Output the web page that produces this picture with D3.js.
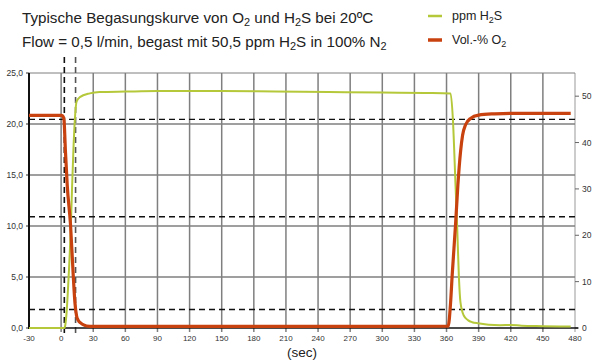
<!DOCTYPE html>
<html><head><meta charset="utf-8">
<script src="https://cdn.jsdelivr.net/npm/d3@7"></script>
<style>
html,body{margin:0;padding:0;background:#fff;}
text{font-family:"Liberation Sans",Arial,Helvetica,sans-serif;}
</style></head>
<body><svg id="c" width="592" height="363"></svg>
<script>
// ---- data ----
const xTicks = [-30,0,30,60,90,120,150,180,210,240,270,300,330,360,390,420,450,480];
const yLeftTicks = [0,5,10,15,20,25];
const yRightTicks = [0,10,20,30,40,50];
const o2Time =  [-30,0,1.4,2.6,4.0,5.7,8.8,11.3,12.9,14.4,16,18.2,21,23.8,30,60,120,180,240,300,358,361.5,363.8,365.3,368.4,370.6,373.1,375,377.7,382.4,390,405,420,450,476];
const o2Value = [20.85,20.85,20.8,20.5,17.4,14.0,10.1,5.2,2.5,1.2,0.75,0.5,0.3,0.2,0.15,0.15,0.15,0.15,0.15,0.15,0.17,0.18,2.5,5.2,10.1,14.0,17.3,18.9,19.9,20.55,20.87,21.0,21.05,21.05,21.05];
const h2sTime =  [-30,3.0,3.5,5,6.6,9.1,10.3,11.5,12.9,14.4,17.5,26.8,36,60,90,150,200,250,300,340,363.8,365.9,368.4,369.9,371.5,373,376.1,380,383.9,390,399.4,410,420,430,450,476];
const h2sValue = [0,0,0.2,3,9.2,22.1,30.8,38.5,45.2,48.8,49.8,50.6,50.9,51.0,51.1,51.1,51.0,50.9,50.8,50.7,50.6,45.2,30.8,22.1,11.3,5.6,2.7,1.7,1.25,1.0,0.7,0.6,0.65,0.5,0.4,0.3];
const hDashRight = [45,24,4];      // horizontal dashed markers (right scale)
const vDashTime = [3,13.5];        // vertical dashed markers (sec)
const series = [{name:"ppm H", sub:"2", tail:"S", color:"#b5c83a"},{name:"Vol.-% O", sub:"2", tail:"", color:"#c8420f"}];

const svg = d3.select("#c");
const L=29, R=575, T=73, B=328;
const x = d3.scaleLinear().domain([-30,480]).range([L,R]);
const yL = d3.scaleLinear().domain([0,25]).range([B,T]);
const yR = d3.scaleLinear().domain([0,55]).range([B,T]);
const grid = "#7f7f7f";

// grid verticals
svg.append("g").selectAll("line").data(xTicks.filter(d=>d>-30)).join("line")
  .attr("x1",d=>x(d)).attr("x2",d=>x(d)).attr("y1",T).attr("y2",B+4)
  .attr("stroke",d=>d===480?"#999":grid).attr("stroke-width",d=>d===480?1:1.5);
// grid horizontals
svg.append("g").selectAll("line").data(yLeftTicks.filter(d=>d>0)).join("line")
  .attr("x1",L).attr("x2",R).attr("y1",d=>yL(d)).attr("y2",d=>yL(d))
  .attr("stroke",grid).attr("stroke-width",d=>d===25?1:1.5);
// right ticks
svg.append("g").selectAll("line").data(yRightTicks).join("line")
  .attr("x1",R).attr("x2",R+4).attr("y1",d=>yR(d)).attr("y2",d=>yR(d))
  .attr("stroke","#666").attr("stroke-width",1);
// left ticks
svg.append("g").selectAll("line").data(yLeftTicks).join("line")
  .attr("x1",L-3).attr("x2",L).attr("y1",d=>yL(d)).attr("y2",d=>yL(d))
  .attr("stroke","#333").attr("stroke-width",1);

// dashed markers
svg.append("g").selectAll("line").data(hDashRight).join("line")
  .attr("x1",L).attr("x2",R).attr("y1",d=>yR(d)).attr("y2",d=>yR(d))
  .attr("stroke","#111").attr("stroke-width",1.4).attr("stroke-dasharray","6,4");
svg.append("g").selectAll("line").data(vDashTime).join("line")
  .attr("x1",d=>x(d)).attr("x2",d=>x(d)).attr("y1",57).attr("y2",B+5)
  .attr("stroke",(d,i)=>i===0?"#111":"#555").attr("stroke-width",1.6).attr("stroke-dasharray","6,4");

// axes lines
svg.append("line").attr("x1",L).attr("x2",L).attr("y1",T).attr("y2",B+1).attr("stroke","#111").attr("stroke-width",2);
svg.append("line").attr("x1",L).attr("x2",R+3).attr("y1",B).attr("y2",B).attr("stroke","#111").attr("stroke-width",1.5);

// series lines
const h2s = h2sTime.map((t,i)=>[t,h2sValue[i]]);
const o2 = o2Time.map((t,i)=>[t,o2Value[i]]);
svg.append("path").datum(h2s).attr("fill","none").attr("stroke",series[0].color).attr("stroke-width",2)
  .attr("d",d3.line().x(d=>x(d[0])).y(d=>yR(d[1])).curve(d3.curveMonotoneX));
svg.append("path").datum(o2).attr("fill","none").attr("stroke",series[1].color).attr("stroke-width",3.2)
  .attr("d",d3.line().x(d=>x(d[0])).y(d=>yL(d[1])).curve(d3.curveMonotoneX));

// tick labels
const fmt = d=>d3.format(".1f")(d).replace(".",",");
svg.append("g").selectAll("text").data(yLeftTicks).join("text")
  .attr("x",23).attr("y",d=>yL(d)+3).attr("text-anchor","end").attr("font-size",8.5).attr("fill","#333").text(fmt);
svg.append("g").selectAll("text").data(yRightTicks).join("text")
  .attr("x",582).attr("y",d=>yR(d)+3).attr("text-anchor","start").attr("font-size",8.5).attr("fill","#333").text(d=>d);
svg.append("g").selectAll("text").data(xTicks).join("text")
  .attr("x",d=>x(d)).attr("y",341).attr("text-anchor","middle").attr("font-size",8).attr("fill","#333").text(d=>d);

svg.append("text").attr("x",302).attr("y",357).attr("text-anchor","middle").attr("font-size",13.5).attr("fill","#222").text("(sec)");

// title
function subText(g, parts, fs){
  parts.forEach(p=>{
    const ts = g.append("tspan").text(p[0]);
    if(p[1]) ts.attr("font-size",fs*0.72).attr("dy",fs*0.22);
    if(p[2]) ts.attr("dy",-fs*0.22);
  });
}
const fsT = 15.2;
const t1 = svg.append("text").attr("x",22).attr("y",23).attr("font-size",fsT).attr("fill","#222");
subText(t1,[["Typische Begasungskurve von O"],["2",1],[" und H",0,1],["2",1],["S bei 20ºC",0,1]],fsT);
const t2 = svg.append("text").attr("x",22).attr("y",47).attr("font-size",fsT).attr("fill","#222");
subText(t2,[["Flow = 0,5 l/min, begast mit 50,5 ppm H"],["2",1],["S in 100% N",0,1],["2",1]],fsT);

// legend
series.forEach((s,i)=>{
  const yy = 16 + i*24;
  svg.append("line").attr("x1",428).attr("x2",442).attr("y1",yy).attr("y2",yy).attr("stroke",s.color).attr("stroke-width",i===0?2.5:3.5);
  const tx = svg.append("text").attr("x",452).attr("y",yy+4).attr("font-size",12.5).attr("fill","#222");
  const parts=[[s.name],[s.sub,1]]; if(s.tail) parts.push([s.tail,0,1]);
  subText(tx,parts,12.5);
});
</script></body></html>
